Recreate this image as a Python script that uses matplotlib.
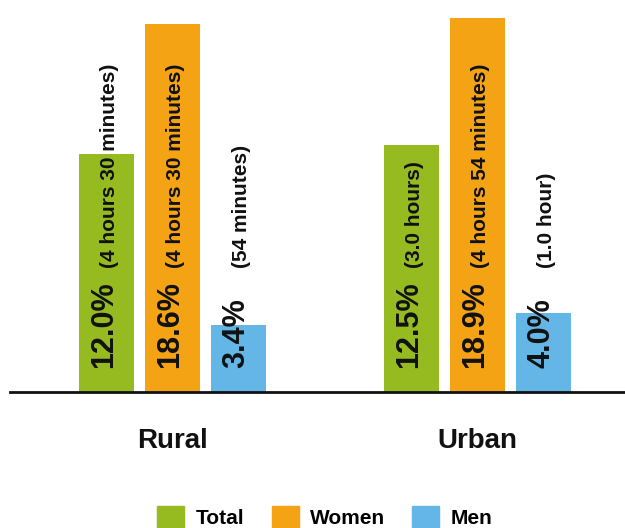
import numpy as np
import matplotlib
matplotlib.use('Agg')
import matplotlib.pyplot as plt
from matplotlib.patches import Patch

# data
areas = ['Rural', 'Urban']
series = ['Total', 'Women', 'Men']
share = {
    'Total': [12.0, 12.5],
    'Women': [18.6, 18.9],
    'Men': [3.4, 4.0],
}
time_labels = {
    'Total': ['(4 hours 30 minutes)', '(3.0 hours)'],
    'Women': ['(4 hours 30 minutes)', '(4 hours 54 minutes)'],
    'Men': ['(54 minutes)', '(1.0 hour)'],
}
colors = {'Total': '#95bb20', 'Women': '#f4a314', 'Men': '#63b6e6'}

plt.rcParams['font.family'] = ['Liberation Sans', 'DejaVu Sans']
plt.rcParams['font.weight'] = 'bold'

fig = plt.figure(figsize=(6.25, 5.28), dpi=100)
ax = fig.add_axes([10/625, (528-392)/528, 615/625, 386/528])

x = np.arange(len(areas))
w = 0.18
step = 0.2164
for i, s in enumerate(series):
    xs = x + (i-1)*step
    ax.bar(xs, share[s], width=w, color=colors[s], zorder=2)
    for xi, v, tl in zip(xs, share[s], time_labels[s]):
        # big percentage at the foot of the bar, time in brackets above it
        ax.annotate(f'{v:.1f}%', (xi, 0), xytext=(-1.5, 17.5), textcoords='offset points',
                    rotation=90, ha='center', va='bottom', fontsize=22,
                    fontweight='bold', color='#111111')
        ax.annotate(tl, (xi, 0), xytext=(2, 89), textcoords='offset points',
                    rotation=90, ha='center', va='bottom', fontsize=15,
                    fontweight='bold', color='#111111')

ax.set_xlim(-0.533, 1.484)
ax.set_ylim(0, 19.5)
for sp in ['top', 'right', 'left']:
    ax.spines[sp].set_visible(False)
ax.spines['bottom'].set_linewidth(2)
ax.spines['bottom'].set_color('#111111')
ax.set_yticks([])
ax.set_xticks(x)
ax.set_xticklabels(areas, fontsize=20, fontweight='bold', color='#111111')
ax.tick_params(axis='x', length=0, pad=26)

handles = [Patch(color=colors[s], label=s) for s in series]
fig.legend(handles=handles, loc='center', bbox_to_anchor=(325/625, 11/528), ncol=3,
           frameon=False, fontsize=15, handlelength=1.3, handleheight=1.2,
           handletextpad=0.55, columnspacing=1.3, borderpad=0)

fig.savefig('out.png', dpi=100)
